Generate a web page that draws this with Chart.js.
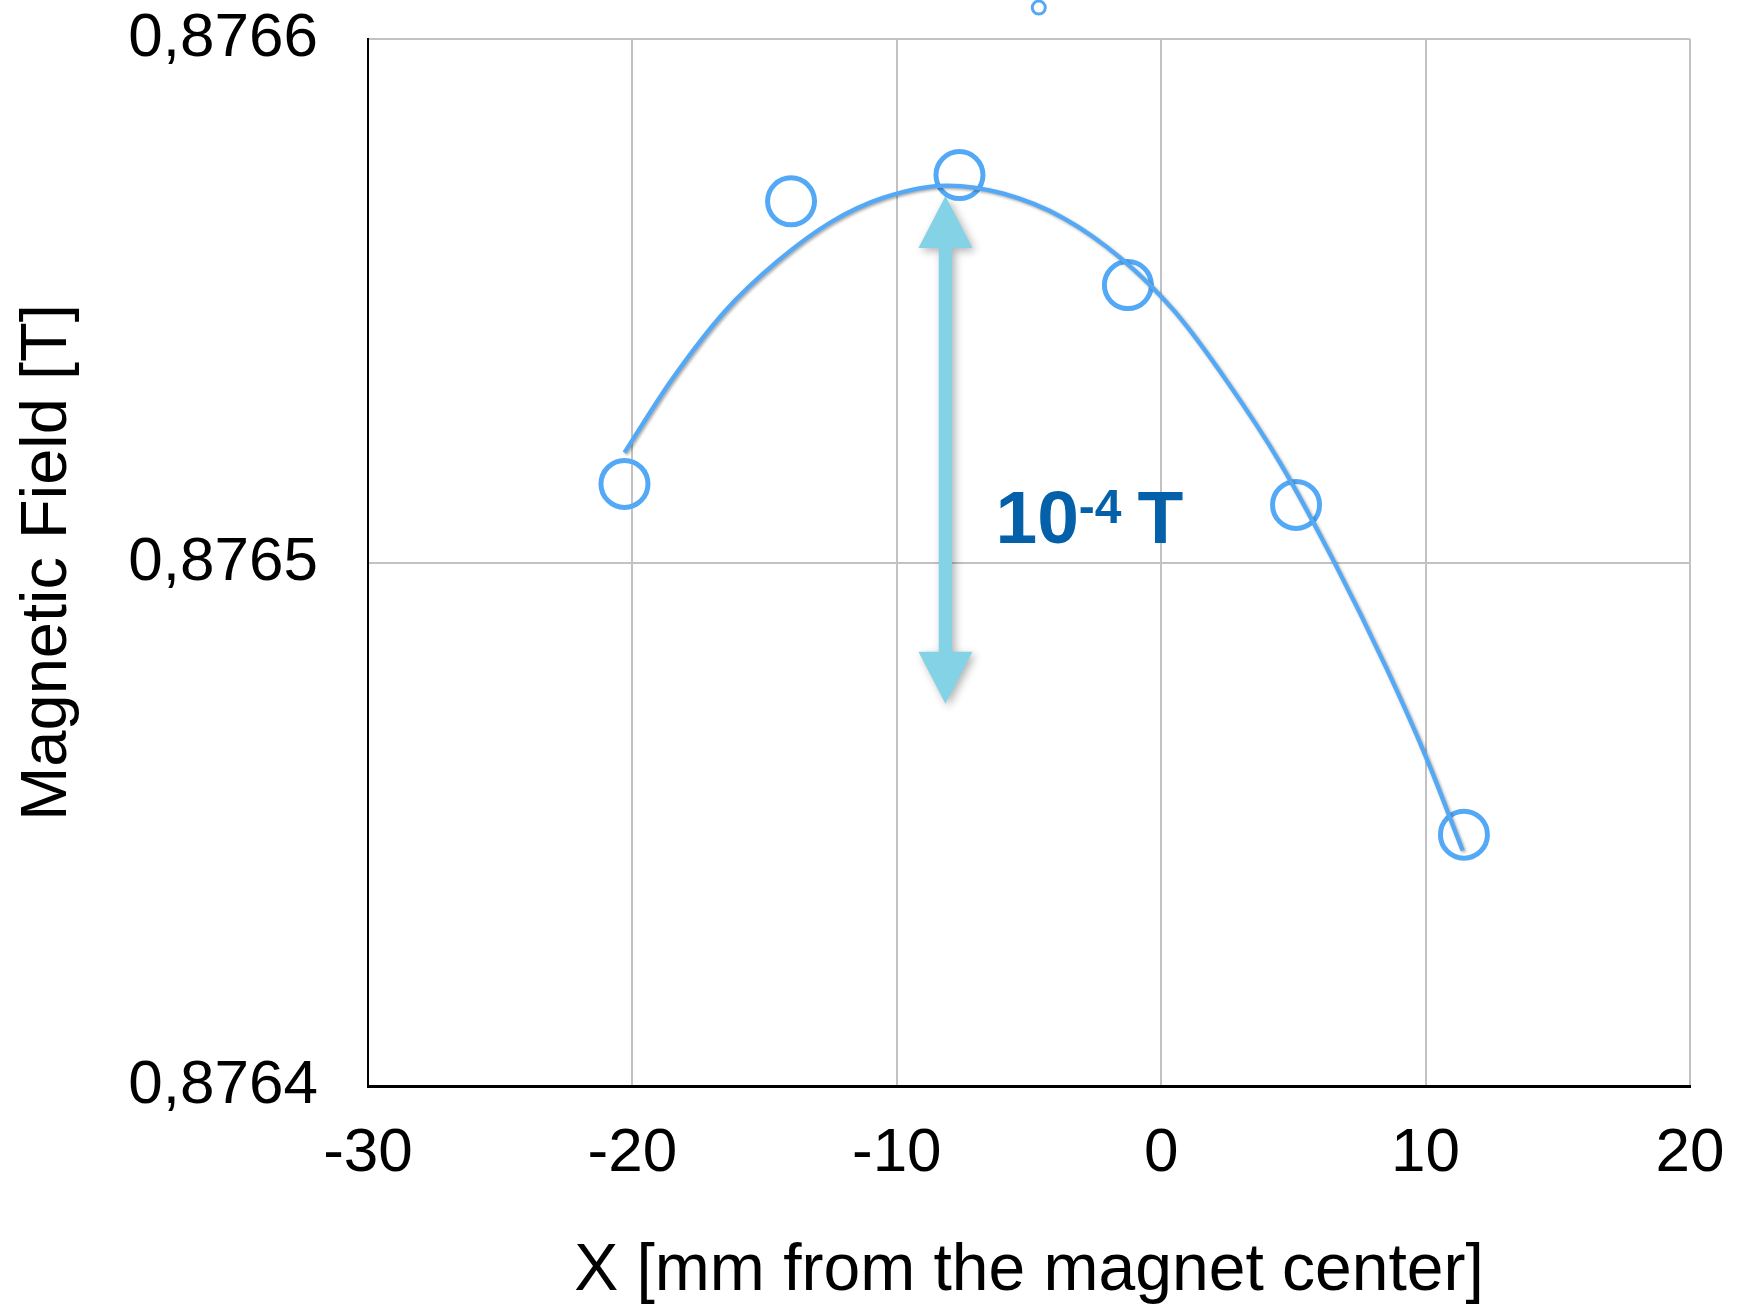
<!DOCTYPE html>
<html>
<head>
<meta charset="utf-8">
<title>Magnetic field vs position</title>
<script src="https://cdn.jsdelivr.net/npm/chart.js@4.4.1/dist/chart.umd.min.js"></script>
<style>
html, body { margin: 0; padding: 0; background: #fff; }
#wrap { width: 1757px; height: 1308px; }
</style>
</head>
<body>
<div id="wrap"><canvas id="mf" width="1757" height="1308"></canvas></div>
<script>
// measured points
var posX = [-20.3, -14.0, -7.63, -1.26, 5.1, 11.45];
var fieldT = [0.876515, 0.876569, 0.876574, 0.876553, 0.876511, 0.876448];

// trend curve
var fitX = [-20.3, -18.5, -16.5, -14.5, -12.5, -10.5, -8.1, -6.0, -3.7, -1.5, 0.5, 2.5, 4.5, 6.5, 8.5, 10.0, 11.4];
var fitT = [0.876521, 0.876535, 0.876548, 0.8765576, 0.876565, 0.8765697, 0.876572, 0.8765705,
    0.8765658, 0.876558, 0.876548, 0.8765345, 0.876519, 0.8765005, 0.87648, 0.876463, 0.876445];

// small marker sitting above the frame
var strayX = [-4.63];
var strayT = [0.876606];

var xTicks = [-30, -20, -10, 0, 10, 20];
var xTickLabels = ["-30", "-20", "-10", "0", "10", "20"];
var yTicks = [0.8764, 0.8765, 0.8766];
var yTickLabels = ["0,8764", "0,8765", "0,8766"];

// the 10^-4 T span arrow and its note
var spanX = -8.16;
var spanTop = 0.87657;
var spanBottom = 0.876473;
var noteX = -6.27;
var noteT = 0.8765038;

var ff = "'Liberation Sans', Arial, Helvetica, sans-serif";
var blue = "#53a9f6";
var arrowBlue = "#84d2e5";
var noteBlue = "#0461a9";

function pts(xs, ys) {
    return xs.map(function (x, i) {
        return { x: x, y: ys[i] };
    });
}

// no extra label padding around the plot box
function pinPad(s) {
    s.paddingTop = 0;
    s.paddingBottom = 0;
    s.paddingLeft = 0;
    s.paddingRight = 0;
}

var shadowPlug = {
    id: "curveShadow",
    beforeDatasetDraw: function (c, a) {
        if (a.index !== 0) return;
        var ctx = c.ctx;
        ctx.save();
        ctx.shadowColor = "rgba(0,0,0,0.35)";
        ctx.shadowBlur = 3;
        ctx.shadowOffsetX = 1.5;
        ctx.shadowOffsetY = 1.5;
    },
    afterDatasetDraw: function (c, a) {
        if (a.index === 0) c.ctx.restore();
    }
};

var spanPlug = {
    id: "span",
    beforeDatasetsDraw: function (c) {
        var ctx = c.ctx, xs = c.scales.x, ys = c.scales.y;
        var x = xs.getPixelForValue(spanX);
        var t = ys.getPixelForValue(spanTop);
        var b = ys.getPixelForValue(spanBottom);
        var hw = 27, hl = 52, sw = 6.7;
        ctx.save();
        ctx.shadowColor = "rgba(0,0,0,0.3)";
        ctx.shadowBlur = 8;
        ctx.shadowOffsetX = 3;
        ctx.shadowOffsetY = 3;
        ctx.fillStyle = arrowBlue;
        ctx.beginPath();
        ctx.moveTo(x, t);
        ctx.lineTo(x + hw, t + hl);
        ctx.lineTo(x + sw, t + hl);
        ctx.lineTo(x + sw, b - hl);
        ctx.lineTo(x + hw, b - hl);
        ctx.lineTo(x, b);
        ctx.lineTo(x - hw, b - hl);
        ctx.lineTo(x - sw, b - hl);
        ctx.lineTo(x - sw, t + hl);
        ctx.lineTo(x - hw, t + hl);
        ctx.closePath();
        ctx.fill();
        ctx.restore();
    },
    afterDatasetsDraw: function (c) {
        var ctx = c.ctx, xs = c.scales.x, ys = c.scales.y;
        // note text: 10^-4 T
        var px = xs.getPixelForValue(noteX);
        var py = ys.getPixelForValue(noteT);
        ctx.save();
        ctx.fillStyle = noteBlue;
        ctx.textBaseline = "alphabetic";
        ctx.textAlign = "left";
        ctx.font = "bold 75px " + ff;
        ctx.fillText("10", px, py);
        var w1 = ctx.measureText("10").width;
        ctx.font = "bold 48px " + ff;
        ctx.fillText("-4", px + w1, py - 20);
        var w2 = ctx.measureText("-4").width;
        ctx.font = "bold 75px " + ff;
        ctx.fillText("T", px + w1 + w2 + 16, py);
        // stray marker
        ctx.strokeStyle = blue;
        ctx.lineWidth = 3;
        for (var i = 0; i < strayX.length; i++) {
            ctx.beginPath();
            ctx.arc(xs.getPixelForValue(strayX[i]), ys.getPixelForValue(strayT[i]), 6.5, 0, Math.PI * 2);
            ctx.stroke();
        }
        ctx.restore();
    }
};

new Chart(document.getElementById("mf"), {
    type: "scatter",
    data: {
        datasets: [
            {
                label: "fit",
                type: "line",
                data: pts(fitX, fitT),
                borderColor: blue,
                borderWidth: 4.3,
                pointRadius: 0,
                fill: false,
                cubicInterpolationMode: "monotone"
            },
            {
                label: "measured",
                data: pts(posX, fieldT),
                showLine: false,
                pointStyle: "circle",
                pointRadius: 23.5,
                borderWidth: 5,
                borderColor: blue,
                backgroundColor: "rgba(0,0,0,0)"
            }
        ]
    },
    options: {
        responsive: false,
        animation: false,
        devicePixelRatio: 1,
        layout: { padding: { left: 0, right: 67, top: 39, bottom: 0 } },
        plugins: {
            legend: { display: false },
            tooltip: { enabled: false }
        },
        scales: {
            x: {
                type: "linear",
                min: -30,
                max: 20,
                afterBuildTicks: function (s) {
                    s.ticks = xTicks.map(function (v) { return { value: v }; });
                },
                afterFit: function (s) {
                    s.height = 222;
                    pinPad(s);
                },
                ticks: {
                    callback: function (v, i) { return xTickLabels[i]; },
                    padding: 31,
                    color: "#000",
                    maxRotation: 0,
                    autoSkip: false,
                    font: { family: ff, size: 62 }
                },
                grid: { color: "#c2c2c2", lineWidth: 2, drawTicks: false },
                border: { color: "#000", width: 3 },
                title: {
                    display: true,
                    text: "X [mm from the magnet center]",
                    color: "#000",
                    font: { family: ff, size: 66, lineHeight: 1.1 },
                    padding: { top: 0, bottom: 0 }
                }
            },
            y: {
                type: "linear",
                min: 0.8764,
                max: 0.8766,
                afterBuildTicks: function (s) {
                    s.ticks = yTicks.map(function (v) { return { value: v }; });
                },
                afterFit: function (s) {
                    s.width = 368;
                    pinPad(s);
                },
                ticks: {
                    callback: function (v, i) { return yTickLabels[i]; },
                    padding: 50,
                    color: "#000",
                    autoSkip: false,
                    font: { family: ff, size: 62 }
                },
                grid: { color: "#c2c2c2", lineWidth: 2, drawTicks: false },
                border: { color: "#000", width: 2 },
                title: {
                    display: true,
                    text: "Magnetic Field [T]",
                    color: "#000",
                    font: { family: ff, size: 65, lineHeight: 1.1 },
                    padding: { top: 12, bottom: 0 }
                }
            }
        }
    },
    plugins: [shadowPlug, spanPlug]
});
</script>
</body>
</html>
